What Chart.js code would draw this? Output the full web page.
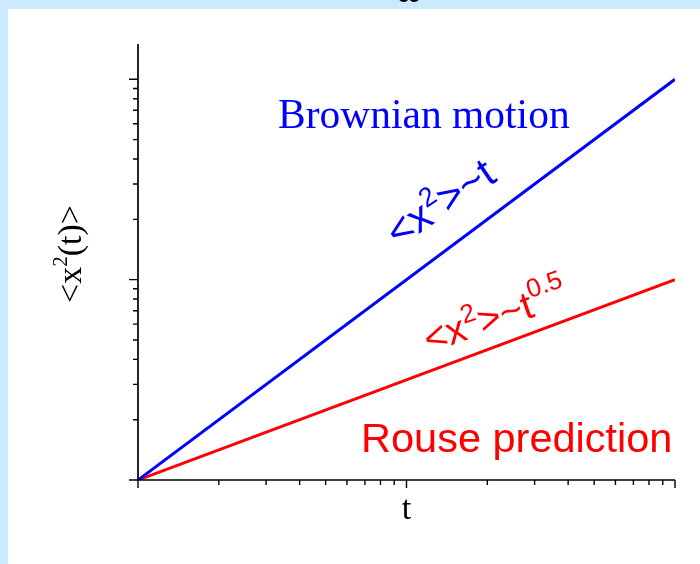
<!DOCTYPE html>
<html>
<head>
<meta charset="utf-8">
<script src="https://cdn.jsdelivr.net/npm/chart.js@4/dist/chart.umd.min.js"></script>
<style>
  html, body { margin: 0; padding: 0; background: #cbeafd; }
  #wrap { width: 700px; height: 564px; }
</style>
</head>
<body>
<div id="wrap"><canvas id="msdChart" width="700" height="564"></canvas></div>
<script>
// --- data (log-log, arbitrary units) ---
const time = [1, 100];
const brownianMsd = [1, 100];   // <x^2> ~ t
const rouseMsd = [1, 10];       // <x^2> ~ t^0.5

const xRange = [1, 100];
const yRange = [1, 150];
const majorTicks = [1, 10, 100];
const minorTicks = [2, 3, 4, 5, 6, 7, 8, 9, 20, 30, 40, 50, 60, 70, 80, 90];

const BLUE = '#0000ff';
const RED = '#ff0000';

// background: light blue frame with white panel
const panelBg = {
    id: 'panelBg',
    beforeDraw(chart) {
        const ctx = chart.ctx;
        ctx.save();
        ctx.fillStyle = '#cbeafd';
        ctx.fillRect(0, 0, chart.width, chart.height);
        ctx.fillStyle = '#ffffff';
        ctx.fillRect(8, 9, chart.width - 8, chart.height - 9);
        ctx.restore();
    }
};

// axes drawn by hand so the ticks look like the original (outside, major/minor)
const axesAndText = {
    id: 'axesAndText',
    afterDatasetsDraw(chart) {
        const ctx = chart.ctx;
        const xs = chart.scales.x;
        const ys = chart.scales.y;
        const area = chart.chartArea;

        ctx.save();
        ctx.strokeStyle = '#000';
        ctx.lineWidth = 1.7;
        ctx.beginPath();
        ctx.moveTo(area.left, area.top);
        ctx.lineTo(area.left, area.bottom);
        ctx.lineTo(area.right, area.bottom);
        ctx.stroke();

        ctx.lineWidth = 1.4;
        ctx.beginPath();
        majorTicks.forEach(v => {
            if (v >= xRange[0] && v <= xRange[1]) {
                const px = xs.getPixelForValue(v);
                ctx.moveTo(px, area.bottom);
                ctx.lineTo(px, area.bottom + 8);
            }
            if (v >= yRange[0] && v <= yRange[1]) {
                const py = ys.getPixelForValue(v);
                ctx.moveTo(area.left, py);
                ctx.lineTo(area.left - 9, py);
            }
        });
        minorTicks.forEach(v => {
            if (v >= xRange[0] && v <= xRange[1]) {
                const px = xs.getPixelForValue(v);
                ctx.moveTo(px, area.bottom);
                ctx.lineTo(px, area.bottom + 5);
            }
            if (v >= yRange[0] && v <= yRange[1]) {
                const py = ys.getPixelForValue(v);
                ctx.moveTo(area.left, py);
                ctx.lineTo(area.left - 5, py);
            }
        });
        ctx.stroke();

        // axis titles
        ctx.fillStyle = '#000';
        ctx.font = '34px "Liberation Serif", serif';
        ctx.textAlign = 'center';
        ctx.textBaseline = 'alphabetic';
        ctx.fillText('t', xs.getPixelForValue(10), 519);

        // clipped title remnant at the very top
        ctx.font = '40px "Liberation Serif", serif';
        ctx.fillText('\u03c9', 409, 2);

        ctx.save();
        ctx.translate(81, 254);
        ctx.rotate(-Math.PI / 2);
        drawRich(ctx, [
            ['<x', 34, 0],
            ['2', 21, 14],
            ['(t)>', 34, 0]
        ], '"Liberation Serif", serif', 'center');
        ctx.restore();

        // annotations
        ctx.fillStyle = BLUE;
        ctx.font = '41.5px "Liberation Serif", serif';
        ctx.textAlign = 'left';
        ctx.fillText('Brownian motion', 278, 128);

        ctx.fillStyle = RED;
        ctx.font = '41.5px "Liberation Sans", Arial, sans-serif';
        ctx.fillText('Rouse prediction', 361, 452);

        ctx.save();
        ctx.fillStyle = BLUE;
        ctx.translate(398, 248);
        ctx.rotate(-34 * Math.PI / 180);
        drawRich(ctx, [
            ['<x', 42, 0],
            ['2', 27, 17],
            ['>~t', 42, 0]
        ], '"Liberation Sans", Arial, sans-serif', 'left');
        ctx.restore();

        ctx.save();
        ctx.fillStyle = RED;
        ctx.translate(429, 353);
        ctx.rotate(-19 * Math.PI / 180);
        drawRich(ctx, [
            ['<x', 39, 0],
            ['2', 26, 16],
            ['>~t', 39, 0],
            ['0.5', 26, 19]
        ], '"Liberation Sans", Arial, sans-serif', 'left');
        ctx.restore();

        ctx.restore();
    }
};

// draw text pieces with sizes and raise (for superscripts)
function drawRich(ctx, parts, family, align) {
    let total = 0;
    parts.forEach(p => {
        ctx.font = p[1] + 'px ' + family;
        total += ctx.measureText(p[0]).width;
    });
    let x = align === 'center' ? -total / 2 : 0;
    ctx.textAlign = 'left';
    ctx.textBaseline = 'alphabetic';
    parts.forEach(p => {
        ctx.font = p[1] + 'px ' + family;
        ctx.fillText(p[0], x, -p[2]);
        x += ctx.measureText(p[0]).width;
    });
}

new Chart(document.getElementById('msdChart'), {
    type: 'line',
    data: {
        datasets: [
            {
                label: 'Brownian motion',
                data: time.map((t, i) => ({ x: t, y: brownianMsd[i] })),
                borderColor: BLUE,
                borderWidth: 3,
                pointRadius: 0,
                tension: 0
            },
            {
                label: 'Rouse prediction',
                data: time.map((t, i) => ({ x: t, y: rouseMsd[i] })),
                borderColor: RED,
                borderWidth: 3,
                pointRadius: 0,
                tension: 0
            }
        ]
    },
    options: {
        responsive: false,
        animation: false,
        layout: { padding: { left: 138, right: 25, top: 44, bottom: 84 } },
        scales: {
            x: { type: 'logarithmic', display: false, min: xRange[0], max: xRange[1] },
            y: { type: 'logarithmic', display: false, min: yRange[0], max: yRange[1] }
        },
        plugins: {
            legend: { display: false },
            tooltip: { enabled: false }
        }
    },
    plugins: [panelBg, axesAndText]
});
</script>
</body>
</html>
